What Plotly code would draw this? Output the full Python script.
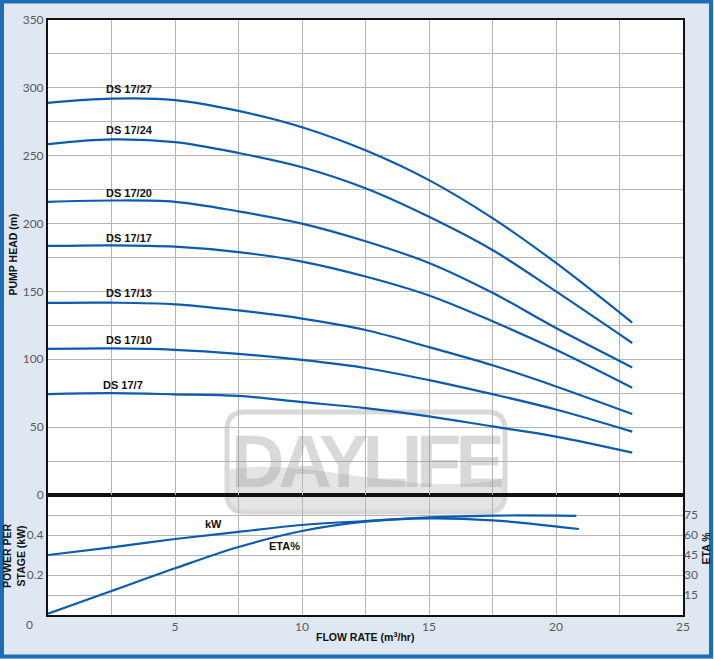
import plotly.graph_objects as go

# ---------------- data ----------------
flow = [0, 2.5, 5, 7.5, 10, 12.5, 15, 17.5, 20, 23]
head_27 = [289, 292, 291, 283, 271, 254, 232, 204, 171, 127]
head_24 = [258.5, 262, 260, 252, 241.5, 226, 205, 180.5, 150, 112]
head_20 = [216, 217, 216, 209, 200, 187, 171, 149, 123, 94]
head_17 = [183.5, 184, 183, 179, 172, 161, 147, 128, 107, 79]
head_13 = [141.5, 141.7, 140.5, 136, 130, 121.6, 109, 95.6, 80, 59.7]
head_10 = [107.6, 108, 107, 104, 99.5, 93.6, 84.7, 74.3, 63, 46.7]
head_7 = [74.4, 75, 74.2, 73, 68.5, 64, 58, 50.5, 43, 31.2]
models = ["DS 17/27", "DS 17/24", "DS 17/20", "DS 17/17", "DS 17/13", "DS 17/10", "DS 17/7"]
label_pos = [(3.2, 299), (3.2, 269), (3.2, 222.5), (3.2, 189.4), (3.2, 149), (3.2, 114.2), (2.95, 81)]

flow_kw = [0, 2.5, 5, 7.5, 10, 12.5, 15, 17.5, 20.8]
kw = [0.30, 0.338, 0.38, 0.416, 0.45, 0.47, 0.488, 0.497, 0.496]
flow_eta = [0, 2.5, 5, 7.5, 10, 12.5, 15, 17.5, 20.9]
eta = [1, 18, 35, 51, 63, 70, 72.5, 71, 64.5]

x_ticks = [5, 10, 15, 20, 25]
head_ticks = [0, 50, 100, 150, 200, 250, 300, 350]
kw_ticks = [0.2, 0.4]
eta_ticks = [15, 30, 45, 60, 75]

# ---------------- style ----------------
BLUE = "#0b5bb0"
GRID = "#b5b5b5"
TICKFONT = dict(family="Lato, Liberation Sans, sans-serif", size=12, color="#5a5a5a")
BOLD = "Liberation Sans, Arial, sans-serif"

W, H = 714, 659
ML, MR, MT, MB = 48, 31, 20, 44
PW, PH = W - ML - MR, H - MT - MB
split = (615 - 495) / PH


def px_x(p):
    return (p - ML) / PW


def px_y(p):
    return (H - MB - p) / PH


fig = go.Figure()
heads = [head_27, head_24, head_20, head_17, head_13, head_10, head_7]
for name, h in zip(models, heads):
    fig.add_trace(go.Scatter(x=flow, y=h, mode="lines", name=name, xaxis="x2", yaxis="y",
                             line=dict(color=BLUE, width=2.2, shape="spline", smoothing=1.0),
                             showlegend=False, hoverinfo="skip"))
fig.add_trace(go.Scatter(x=flow_kw, y=kw, mode="lines", name="kW", xaxis="x", yaxis="y2",
                         line=dict(color=BLUE, width=2.2, shape="spline", smoothing=1.0),
                         showlegend=False, hoverinfo="skip"))
fig.add_trace(go.Scatter(x=flow_eta, y=eta, mode="lines", name="ETA%", xaxis="x", yaxis="y3",
                         line=dict(color=BLUE, width=2.2, shape="spline", smoothing=1.0),
                         showlegend=False, hoverinfo="skip"))

LBL = dict(family=BOLD, size=11, color="#111")
TTL = dict(family=BOLD, size=10.5, color="#111")
C = dict(showarrow=False, xanchor="center", yanchor="middle")
ann = []
for name, (lx, ly) in zip(models, label_pos):
    ann.append(dict(x=lx, y=ly, xref="x2", yref="y", text=f"<b>{name}</b>", font=LBL, **C))
ann.append(dict(x=6.5, y=0.455, xref="x", yref="y2", text="<b>kW</b>", font=LBL, **C))
ann.append(dict(x=9.3, y=0.345, xref="x", yref="y2", text="<b>ETA%</b>", font=LBL, **C))
# axis titles
ann.append(dict(x=px_x(12.5), y=px_y(255), xref="paper", yref="paper", text="<b>PUMP HEAD (m)</b>",
                textangle=-90, font=TTL, **C))
ann.append(dict(x=px_x(14), y=px_y(556), xref="paper", yref="paper", text="<b>POWER PER<br>STAGE (kW)</b>",
                textangle=-90, font=TTL, **C))
ann.append(dict(x=px_x(705.5), y=px_y(548), xref="paper", yref="paper", text="<b>ETA %</b>",
                textangle=-90, font=TTL, **C))
ann.append(dict(x=px_x(365), y=px_y(636), xref="paper", yref="paper",
                text="<b>FLOW RATE (m<sup>3</sup>/hr)</b>", font=TTL, **C))
ann.append(dict(x=px_x(29), y=px_y(624), xref="paper", yref="paper", text="0", font=TICKFONT, **C))
# watermark text
ann.append(dict(x=px_x(367), y=px_y(461), xref="paper", yref="paper",
                text="<b><span style='letter-spacing:-6px'>DAYLIFE</span></b>",
                font=dict(family="Liberation Sans, Arial, sans-serif", size=74,
                          color="rgba(150,150,150,0.36)"), **C))

# watermark rounded rectangle + wave
x0, x1, y0, y1 = px_x(227), px_x(505), px_y(512), px_y(412)
rx, ry = 18 / PW, 18 / PH
rr = (f"M {x0+rx},{y0} L {x1-rx},{y0} Q {x1},{y0} {x1},{y0+ry} L {x1},{y1-ry} Q {x1},{y1} {x1-rx},{y1} "
      f"L {x0+rx},{y1} Q {x0},{y1} {x0},{y1-ry} L {x0},{y0+ry} Q {x0},{y0} {x0+rx},{y0} Z")
wave = (f"M {x0},{px_y(470)} C {px_x(300)},{px_y(455)} {px_x(420)},{px_y(500)} {x1},{px_y(478)} "
        f"L {x1},{y0+ry} Q {x1},{y0} {x1-rx},{y0} L {x0+rx},{y0} Q {x0},{y0} {x0},{y0+ry} Z")

shapes = [
    dict(type="rect", xref="paper", yref="paper", x0=0, x1=1, y0=0, y1=1,
         fillcolor="white", line=dict(width=0), layer="below"),
    dict(type="path", xref="paper", yref="paper", path=wave, fillcolor="#e4e4e4",
         line=dict(width=0), layer="below"),
    dict(type="path", xref="paper", yref="paper", path=rr, fillcolor="rgba(0,0,0,0)",
         line=dict(color="#d9d9d9", width=5), layer="below"),
    dict(type="rect", xref="paper", yref="paper", x0=px_x(2), x1=px_x(711), y0=px_y(656.5), y1=px_y(1.5),
         fillcolor="rgba(0,0,0,0)", line=dict(color="#1d6cb8", width=4), layer="above"),
]

axis_common = dict(showline=True, linecolor="#111", linewidth=2, mirror=True, ticks="",
                   showgrid=True, gridcolor=GRID, gridwidth=1.2, zeroline=False, tickfont=TICKFONT,
                   automargin=False)

fig.update_layout(
    width=W, height=H,
    margin=dict(l=ML, r=MR, t=MT, b=MB, pad=0),
    paper_bgcolor="#dfe7f3",
    plot_bgcolor="rgba(0,0,0,0)",
    showlegend=False,
    annotations=ann,
    shapes=shapes,
    xaxis=dict(domain=[0, 1], anchor="y2", range=[0, 25], tickvals=x_ticks,
               minor=dict(dtick=2.5, tick0=0, showgrid=True, gridcolor=GRID, gridwidth=1.2),
               **axis_common),
    xaxis2=dict(domain=[0, 1], anchor="y", range=[0, 25], matches="x", showticklabels=False,
                tickvals=x_ticks,
                minor=dict(dtick=2.5, tick0=0, showgrid=True, gridcolor=GRID, gridwidth=1.2),
                **axis_common),
    yaxis=dict(domain=[split, 1], anchor="x2", range=[0, 350], tickvals=head_ticks,
               minor=dict(dtick=25, tick0=0, showgrid=True, gridcolor=GRID, gridwidth=1.2),
               **axis_common),
    yaxis2=dict(domain=[0, split], anchor="x", range=[0, 0.6], tickvals=kw_ticks,
                minor=dict(dtick=0.1, tick0=0, showgrid=True, gridcolor=GRID, gridwidth=1.2),
                **axis_common),
    yaxis3=dict(overlaying="y2", side="right", anchor="x", range=[0, 90], tickvals=eta_ticks,
                showgrid=False, zeroline=False, showline=False, ticks="", automargin=False,
                tickfont=TICKFONT),
)

fig.write_html("out.html", config={"displayModeBar": False},
               post_script="document.body.style.margin='0';document.body.style.padding='0';")
